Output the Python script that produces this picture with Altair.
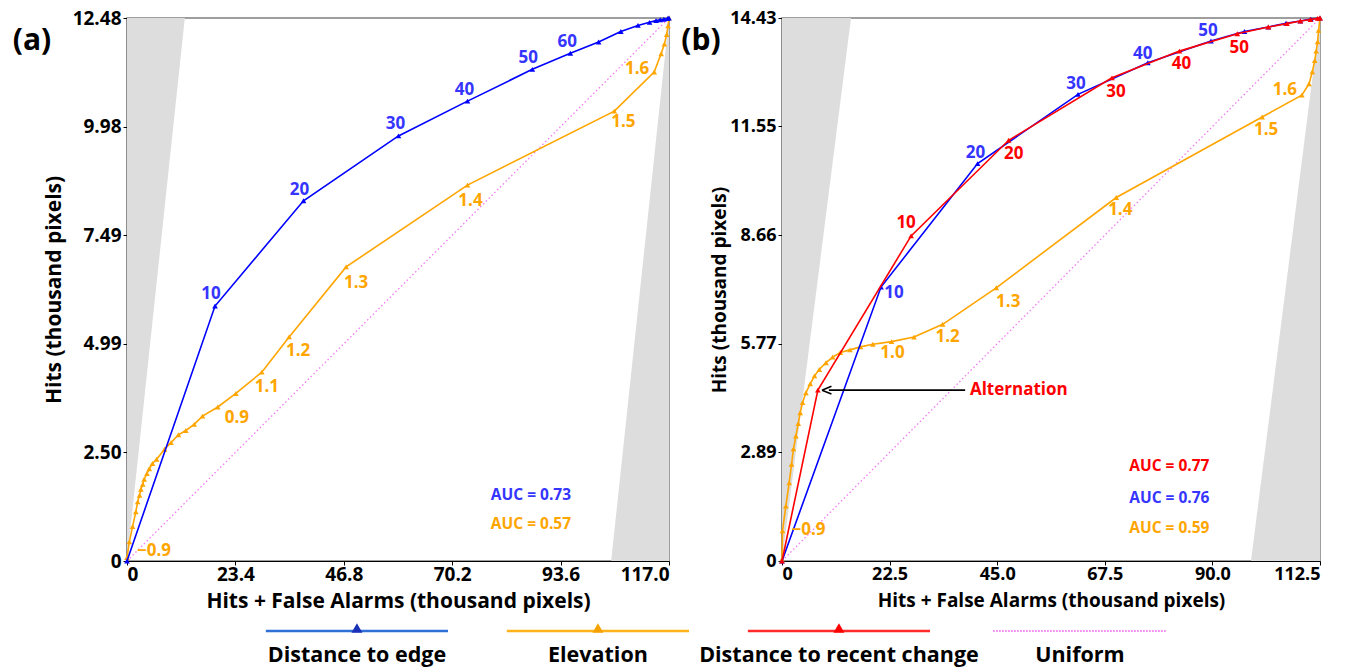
import altair as alt
import pandas as pd

FONT = "Open Sans"

# ---------------- Panel (a) ----------------
a_x_max = 117.0
a_y_max = 12.48
a_x_ticks = [0, 23.4, 46.8, 70.2, 93.6, 117.0]
a_y_ticks = [0, 2.50, 4.99, 7.49, 9.98, 12.48]

a_edge_x = [0, 19.0, 38.1, 58.6, 73.5, 87.5, 95.7, 101.8, 106.6, 110.3, 112.8, 114.2, 115.1, 115.9, 116.7, 117.0]
a_edge_y = [0, 5.86, 8.28, 9.77, 10.57, 11.30, 11.67, 11.93, 12.17, 12.31, 12.38, 12.42, 12.44, 12.45, 12.47, 12.48]

a_elev_x = [0, 0.5, 1.2, 1.9, 2.3, 2.7, 3.0, 3.4, 3.7, 4.3, 4.8, 5.5, 6.4, 8.1, 9.5, 11.1, 12.7, 14.5, 16.3,
            19.6, 23.5, 29.1, 35.0, 47.3, 73.5, 105.2, 113.8, 115.3, 116.0, 116.5, 116.8, 117.0]
a_elev_y = [0.08, 0.44, 0.79, 1.13, 1.36, 1.51, 1.65, 1.76, 1.88, 2.01, 2.12, 2.24, 2.34, 2.57, 2.72, 2.90, 3.00,
            3.14, 3.33, 3.54, 3.85, 4.34, 5.15, 6.76, 8.64, 10.34, 11.24, 11.66, 11.88, 12.10, 12.30, 12.48]

a_edge_labels = ["10", "20", "30", "40", "50", "60"]
a_edge_label_idx = [1, 2, 3, 4, 5, 6]
a_elev_labels = ["\u22120.9", "0.9", "1.1", "1.2", "1.3", "1.4", "1.5", "1.6"]
a_elev_label_idx = [0, 19, 21, 22, 23, 24, 25, 26]

a_auc_text = ["AUC = 0.73", "AUC = 0.57"]
a_auc_x = [87.2, 87.2]
a_auc_y = [1.52, 0.85]

# ---------------- Panel (b) ----------------
b_x_max = 112.5
b_y_max = 14.43
b_x_ticks = [0, 22.5, 45.0, 67.5, 90.0, 112.5]
b_y_ticks = [0, 2.89, 5.77, 8.66, 11.55, 14.43]

b_edge_x = [0, 20.7, 40.9, 61.9, 76.5, 89.7, 96.7, 101.7, 105.4, 108.4, 110.6, 112.5]
b_edge_y = [0, 7.28, 10.56, 12.40, 13.24, 13.82, 14.07, 14.19, 14.29, 14.35, 14.40, 14.43]

b_recent_x = [0, 7.5, 27.0, 47.4, 69.0, 83.1, 95.2, 101.7, 105.6, 108.4, 110.5, 112.0, 112.5]
b_recent_y = [0, 4.54, 8.64, 11.18, 12.84, 13.55, 14.01, 14.19, 14.28, 14.35, 14.39, 14.42, 14.43]

b_elev_x = [0, 0.1, 0.8, 1.5, 2.0, 2.4, 2.9, 3.4, 3.8, 4.3, 5.0, 5.9, 6.8, 7.8, 9.2, 10.6, 12.2, 14.2, 16.4,
            19.0, 22.9, 27.6, 33.6, 44.8, 69.9, 100.4, 108.7, 110.2, 110.9, 111.4, 111.7, 112.0, 112.2, 112.5]
b_elev_y = [0.05, 0.80, 1.46, 2.08, 2.57, 2.98, 3.32, 3.65, 3.94, 4.21, 4.47, 4.71, 4.92, 5.09, 5.27, 5.42,
            5.54, 5.61, 5.69, 5.76, 5.83, 5.95, 6.29, 7.26, 9.66, 11.80, 12.38, 12.68, 13.00, 13.30, 13.55,
            13.80, 14.10, 14.43]

b_edge_labels = ["10", "20", "30", "40", "50"]
b_edge_label_idx = [1, 2, 3, 4, 5]
b_recent_labels = ["10", "20", "30", "40", "50"]
b_recent_label_idx = [2, 3, 4, 5, 6]
b_elev_labels = ["\u22120.9", "1.0", "1.2", "1.3", "1.4", "1.5", "1.6"]
b_elev_label_idx = [1, 20, 22, 23, 24, 25, 26]

b_auc_text = ["AUC = 0.77", "AUC = 0.76", "AUC = 0.59"]
b_auc_x = [81.0, 81.0, 81.0]
b_auc_y = [2.52, 1.67, 0.88]

b_arrow_text = "Alternation"
b_arrow_from_x = 38.3
b_arrow_to_x = 9.8
b_arrow_tip_x = 9.35
b_arrow_text_x = 39.3
b_arrow_y = 4.54

legend_names = ["Distance to edge", "Elevation", "Distance to recent change", "Uniform"]

# ---------------- styles ----------------
BLUE = "#0000FF"
BLUE_TXT = "#3535FF"
ORANGE = "#FFA500"
RED = "#FF0000"
PINK = "#F27AF2"
GRAY = "#DDDDDD"


def make_panel(xmax, ymax, xt, yt, w, h, series, labels, aucs, panel_tag, tag_x,
               tick_size, title_size, ytitle_pad, xtitle_pad, extra=None):
    xs = alt.Scale(domain=[0, xmax], nice=False, zero=False)
    ys = alt.Scale(domain=[0, ymax], nice=False, zero=False)
    xfmt = "datum.value == 0 ? '0' : format(datum.value, '.1f')"
    yfmt = "datum.value == 0 ? '0' : format(datum.value, '.2f')"
    xax = alt.Axis(values=xt, labelExpr=xfmt, title="Hits + False Alarms (thousand pixels)",
                   labelFontSize=tick_size, titleFontSize=title_size, titlePadding=xtitle_pad,
                   labelPadding=0, tickSize=4)
    yax = alt.Axis(values=yt, labelExpr=yfmt, title="Hits (thousand pixels)",
                   labelFontSize=tick_size, titleFontSize=title_size, titlePadding=ytitle_pad,
                   labelPadding=2, tickSize=4)
    X = alt.X("x:Q", scale=xs, axis=xax)
    Y = alt.Y("y:Q", scale=ys, axis=yax)

    layers = []
    left = pd.DataFrame({"x": [0, ymax], "y": [0, ymax], "y2": [ymax, ymax]})
    right = pd.DataFrame({"x": [xmax - ymax, xmax], "y": [0, 0], "y2": [0, ymax]})
    for df in (left, right):
        layers.append(alt.Chart(df).mark_area(color=GRAY, opacity=1).encode(x=X, y=Y, y2="y2:Q"))
    uni = pd.DataFrame({"x": [0, xmax], "y": [0, ymax]})
    layers.append(alt.Chart(uni).mark_line(color=PINK, strokeWidth=1.3, strokeDash=[1.5, 2.5]).encode(x=X, y=Y))

    for sx, sy, color in series:
        df = pd.DataFrame({"x": sx, "y": sy, "i": list(range(len(sx)))})
        layers.append(alt.Chart(df).mark_line(color=color, strokeWidth=1.6).encode(x=X, y=Y, order="i:Q"))
        layers.append(alt.Chart(df).mark_point(shape="triangle-up", filled=True, opacity=1, size=32,
                                               color=color).encode(x=X, y=Y))
    if extra is not None:
        layers.extend(extra(X, Y))

    for sx, sy, texts, idxs, offs, color in labels:
        for t, i, (dx, dy) in zip(texts, idxs, offs):
            df = pd.DataFrame({"x": [sx[i]], "y": [sy[i]], "t": [t]})
            layers.append(alt.Chart(df).mark_text(color=color, font=FONT, fontWeight="bold", fontSize=17,
                                                  dx=dx, dy=dy, align="center", baseline="middle")
                          .encode(x=X, y=Y, text="t:N"))

    for t, ax, ay, color in aucs:
        df = pd.DataFrame({"x": [ax], "y": [ay], "t": [t]})
        layers.append(alt.Chart(df).mark_text(color=color, font=FONT, fontWeight="bold", fontSize=15.5,
                                              align="center", baseline="middle").encode(x=X, y=Y, text="t:N"))

    tag = pd.DataFrame({"t": [panel_tag]})
    layers.append(alt.Chart(tag).mark_text(font=FONT, fontWeight="bold", fontSize=30, color="black",
                                           align="center", baseline="middle")
                  .encode(x=alt.value(tag_x), y=alt.value(23), text="t:N"))
    return alt.layer(*layers).properties(width=w, height=h)


def arrow_layers(X, Y):
    out = []
    df = pd.DataFrame({"x": [b_arrow_from_x], "x2": [b_arrow_to_x], "y": [b_arrow_y]})
    out.append(alt.Chart(df).mark_rule(color="black", strokeWidth=1.6).encode(x=X, x2="x2:Q", y=Y))
    dh = pd.DataFrame({"x": [b_arrow_tip_x], "y": [b_arrow_y]})
    out.append(alt.Chart(dh).mark_point(shape="M-1,0L1,-0.8M-1,0L1,0.8", filled=False, size=90,
                                        color="black", strokeWidth=1.6, opacity=1).encode(x=X, y=Y))
    dt = pd.DataFrame({"x": [b_arrow_text_x], "y": [b_arrow_y], "t": [b_arrow_text]})
    out.append(alt.Chart(dt).mark_text(color=RED, font=FONT, fontWeight="bold", fontSize=17, align="left",
                                       baseline="middle").encode(x=X, y=Y, text="t:N"))
    return out


panel_a = make_panel(
    a_x_max, a_y_max, a_x_ticks, a_y_ticks, 542, 543,
    series=[(a_elev_x, a_elev_y, ORANGE), (a_edge_x, a_edge_y, BLUE)],
    labels=[
        (a_edge_x, a_edge_y, a_edge_labels, a_edge_label_idx, [(-4, -12), (-4, -11), (-3, -12), (-3, -11), (-4, -11), (-3, -11)], BLUE_TXT),
        (a_elev_x, a_elev_y, a_elev_labels, a_elev_label_idx,
         [(27, -7), (19, 11), (5, 15), (9, 14), (10, 16), (3, 16), (9, 11), (-17, -3)], ORANGE),
    ],
    aucs=[(a_auc_text[0], a_auc_x[0], a_auc_y[0], BLUE_TXT), (a_auc_text[1], a_auc_x[1], a_auc_y[1], ORANGE)],
    panel_tag="(a)", tag_x=-95, tick_size=19, title_size=21, ytitle_pad=8, xtitle_pad=6,
)

panel_b = make_panel(
    b_x_max, b_y_max, b_x_ticks, b_y_ticks, 538, 543,
    series=[(b_elev_x, b_elev_y, ORANGE), (b_edge_x, b_edge_y, BLUE), (b_recent_x, b_recent_y, RED)],
    labels=[
        (b_edge_x, b_edge_y, b_edge_labels, b_edge_label_idx, [(13, 6), (-2, -11), (-2, -10), (-5, -9), (-3, -10)], BLUE_TXT),
        (b_recent_x, b_recent_y, b_recent_labels, b_recent_label_idx, [(-5, -13), (5, 14), (4, 14), (2, 13), (2, 14)], RED),
        (b_elev_x, b_elev_y, b_elev_labels, b_elev_label_idx,
         [(26, -1), (1, 11), (5, 13), (12, 14), (4, 13), (4, 13), (-17, -5)], ORANGE),
    ],
    aucs=[(b_auc_text[0], b_auc_x[0], b_auc_y[0], RED), (b_auc_text[1], b_auc_x[1], b_auc_y[1], BLUE_TXT),
          (b_auc_text[2], b_auc_x[2], b_auc_y[2], ORANGE)],
    panel_tag="(b)", tag_x=-81, tick_size=18, title_size=19, ytitle_pad=0, xtitle_pad=8,
    extra=arrow_layers,
)

# ---------------- legend ----------------
leg = pd.DataFrame({"name": legend_names, "k": list(range(len(legend_names)))})
LDOM = [-0.954, 3.996]
LX = alt.X("k:Q", scale=alt.Scale(domain=LDOM, nice=False, zero=False), axis=None)
leg_colors = ["#2F6FD6", "#FFB31A", "#FF2A2A", PINK]
tri_colors = ["#1A30B8", "#F5A200", "#FF0000", PINK]
leg_line = alt.Chart(leg).transform_filter("datum.k < 3").transform_calculate(
    a="datum.k - 0.378", b="datum.k + 0.378").mark_rule(strokeWidth=2.6).encode(
    x=alt.X("a:Q", scale=alt.Scale(domain=LDOM, nice=False, zero=False), axis=None),
    x2="b:Q", y=alt.value(19),
    color=alt.Color("name:N", scale=alt.Scale(domain=legend_names, range=leg_colors), legend=None))
leg_uni = alt.Chart(leg).transform_filter("datum.k == 3").transform_calculate(
    a="datum.k - 0.36", b="datum.k + 0.36").mark_rule(strokeWidth=2, strokeDash=[1.5, 1.5], color=PINK).encode(
    x=alt.X("a:Q", scale=alt.Scale(domain=LDOM, nice=False, zero=False), axis=None),
    x2="b:Q", y=alt.value(19))
leg_tri = alt.Chart(leg).transform_filter("datum.k < 3").mark_point(
    shape="triangle-up", filled=True, opacity=1, size=120).encode(
    x=LX, y=alt.value(16),
    color=alt.Color("name:N", scale=alt.Scale(domain=legend_names, range=tri_colors), legend=None))
leg_txt = alt.Chart(leg).mark_text(font=FONT, fontWeight="bold", fontSize=21.5, color="black",
                                   align="center", baseline="middle").encode(
    x=LX, y=alt.value(44), text="name:N")
legend = alt.layer(leg_line, leg_uni, leg_tri, leg_txt).resolve_scale(color="independent").properties(
    width=1193, height=55, view=alt.ViewBackground(stroke=None))

top = alt.hconcat(panel_a, panel_b, spacing=113, bounds="flush")
chart = alt.vconcat(top, legend, spacing=0).properties(
    padding={"left": 4, "top": 0, "right": 0, "bottom": 0}
).configure_view(stroke="#7F7F7F", strokeWidth=1.5).configure_axis(
    domainColor="black", domainWidth=1.2, tickColor="black", grid=False,
    labelFont=FONT, labelFontWeight="bold", labelColor="black",
    titleFont=FONT, titleFontWeight="bold", titleColor="black",
)

chart.save("out.html", embed_options={"renderer": "svg", "actions": False})
